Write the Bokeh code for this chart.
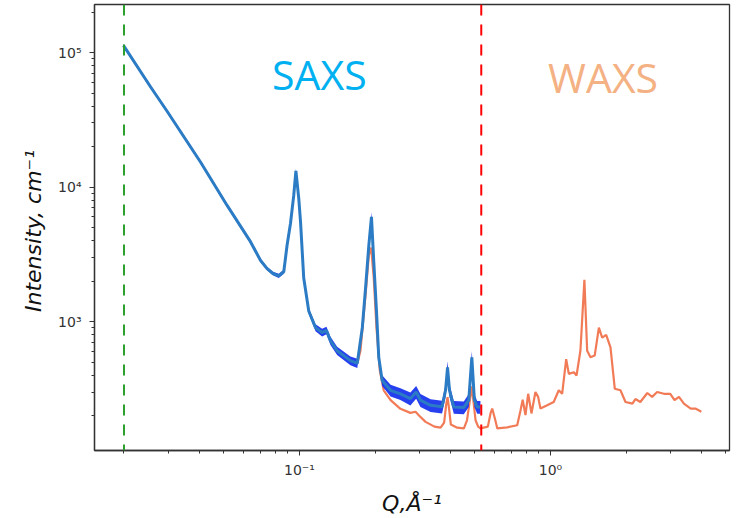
from bokeh.plotting import figure
from bokeh.models import Range1d, FixedTicker, Span, Label
from bokeh.embed import file_html
from bokeh.resources import INLINE

# SAXS curve (Q in 1/A, intensity in 1/cm) and relative error
saxs_q = [0.0199, 0.0255, 0.0297, 0.0404, 0.0515, 0.0638, 0.0700, 0.0743, 0.0784,
          0.0827, 0.0866, 0.0893, 0.0921, 0.0949, 0.0968, 0.0994, 0.101, 0.104,
          0.1089, 0.1159, 0.1231, 0.1281, 0.1329, 0.1413, 0.1596, 0.170, 0.178,
          0.1834, 0.189, 0.1936, 0.1977, 0.2027, 0.207, 0.2135, 0.2307, 0.2525,
          0.2767, 0.2917, 0.3034, 0.333, 0.370, 0.382, 0.389, 0.396, 0.412,
          0.4515, 0.4726, 0.486, 0.4977, 0.5105, 0.526]
saxs_i = [113000, 55700, 36600, 15300, 7310, 3930, 2850, 2480, 2280,
          2190, 2350, 3710, 5360, 8670, 13200, 8180, 5520, 2110,
          1200, 903, 830, 862, 721, 608, 513, 491, 903,
          1780, 3710, 6010, 2800, 1200, 543, 366, 309, 291,
          268, 300, 261, 239, 233, 309, 458, 309, 232,
          230, 261, 543, 261, 232, 232]
saxs_err = [0.025, 0.025, 0.025, 0.025, 0.025, 0.03, 0.03, 0.03, 0.03,
            0.035, 0.035, 0.035, 0.035, 0.035, 0.035, 0.04, 0.04, 0.045,
            0.05, 0.06, 0.065, 0.065, 0.07, 0.07, 0.075, 0.08, 0.08,
            0.08, 0.08, 0.08, 0.08, 0.08, 0.085, 0.09, 0.10, 0.10,
            0.11, 0.11, 0.11, 0.11, 0.11, 0.11, 0.11, 0.11, 0.11,
            0.11, 0.11, 0.11, 0.11, 0.11, 0.11]

# WAXS / merged curve
waxs_q = [0.1596, 0.170, 0.175, 0.1834, 0.189, 0.193, 0.1977, 0.2027, 0.209,
          0.2166, 0.2307, 0.2525, 0.2767, 0.290, 0.300, 0.318, 0.345, 0.365,
          0.377, 0.384, 0.389, 0.394, 0.401, 0.425, 0.452, 0.465, 0.476,
          0.486, 0.494, 0.503, 0.515, 0.526, 0.563, 0.577, 0.586, 0.603,
          0.614, 0.673, 0.737, 0.760, 0.775, 0.795, 0.815, 0.840, 0.871,
          0.893, 0.912, 0.970, 1.03, 1.079, 1.113, 1.155, 1.183, 1.239,
          1.27, 1.316, 1.365, 1.40, 1.443, 1.50, 1.559, 1.607, 1.667,
          1.734, 1.804, 1.9, 1.99, 2.12, 2.18, 2.28, 2.43, 2.54,
          2.66, 2.83, 3.0, 3.12, 3.25, 3.4, 3.62, 3.78, 3.99]
waxs_i = [513, 488, 608, 1590, 3130, 3550, 2110, 903, 433,
          309, 261, 225, 210, 214, 200, 180, 166, 163,
          178, 240, 275, 230, 172, 163, 161, 185, 250,
          330, 250, 185, 166, 161, 166, 208, 226, 185,
          161, 164, 170, 220, 263, 202, 291, 208, 300,
          276, 226, 239, 253, 309, 291, 527, 409, 421,
          398, 608, 2050, 608, 543, 560, 903, 762, 798,
          643, 317, 309, 253, 246, 266, 253, 295, 276,
          300, 291, 291, 261, 276, 246, 226, 226, 214]

x_ticks = [0.1, 1.0]
x_tick_labels = ["10\u207b\u00b9", "10\u2070"]
x_minor = [0.02, 0.03, 0.04, 0.05, 0.06, 0.07, 0.08, 0.09,
           0.2, 0.3, 0.4, 0.5, 0.6, 0.7, 0.8, 0.9, 2, 3, 4, 5]
y_ticks = [1e3, 1e4, 1e5]
y_tick_labels = ["10\u00b3", "10\u2074", "10\u2075"]
y_minor = [200, 300, 400, 500, 600, 700, 800, 900,
           2000, 3000, 4000, 5000, 6000, 7000, 8000, 9000,
           20000, 30000, 40000, 50000, 60000, 70000, 80000, 90000, 200000]

saxs_limit = 0.02
waxs_limit = 0.53

p = figure(width=741, height=518, x_axis_type="log", y_axis_type="log",
           x_range=Range1d(0.01526, 5.166), y_range=Range1d(110.3, 2.275e5),
           output_backend="svg", toolbar_location=None,
           min_border_left=94, min_border_right=12, min_border_top=4, min_border_bottom=64)
p.background_fill_color = "white"
p.border_fill_color = "white"
p.xgrid.visible = False
p.ygrid.visible = False
p.outline_line_color = "#333333"
p.outline_line_width = 1.3
p.outline_line_alpha = 1.0

# curves
p.line(waxs_q, waxs_i, line_color="#f27b57", line_width=2.2)
lower = [v * (1 - e) for v, e in zip(saxs_i, saxs_err)]
upper = [v * (1 + e) for v, e in zip(saxs_i, saxs_err)]
p.varea(x=saxs_q, y1=lower, y2=upper, fill_color="#1a35ee", fill_alpha=0.95)
p.line(saxs_q, saxs_i, line_color="#2b7cc4", line_width=3)

p.add_layout(Span(location=saxs_limit, dimension="height", line_color="#2ca02c",
                  line_width=2, line_dash="11 9"))
p.add_layout(Span(location=waxs_limit, dimension="height", line_color="#ff0000",
                  line_width=2, line_dash="11 9"))

p.add_layout(Label(x=0.120, y=6.9e4, text="SAXS", text_font="Open Sans",
                   text_font_size="41px", text_color="#00b0f0", text_align="center",
                   text_baseline="alphabetic"))
p.add_layout(Label(x=1.62, y=6.6e4, text="WAXS", text_font="Open Sans",
                   text_font_size="41px", text_color="#f4b183", text_align="center",
                   text_baseline="alphabetic"))

# axes
for ax in (p.xaxis[0], p.yaxis[0]):
    ax.axis_line_color = "#333333"
    ax.axis_line_width = 1.3
    ax.major_tick_line_color = "#333333"
    ax.minor_tick_line_color = "#333333"
    ax.major_tick_in = 0
    ax.minor_tick_in = 0
    ax.major_tick_out = 5
    ax.minor_tick_out = 3
    ax.major_label_text_font = "DejaVu Sans"
    ax.major_label_text_font_size = "14px"
    ax.major_label_text_color = "#333333"
    ax.axis_label_text_font = "DejaVu Sans"
    ax.axis_label_text_font_style = "italic"
    ax.axis_label_text_font_size = "22px"
    ax.axis_label_text_color = "#111111"

p.xaxis.ticker = FixedTicker(ticks=x_ticks, minor_ticks=x_minor)
p.xaxis.major_label_overrides = dict(zip(x_ticks, x_tick_labels))
p.yaxis.ticker = FixedTicker(ticks=y_ticks, minor_ticks=y_minor)
p.yaxis.major_label_overrides = dict(zip(y_ticks, y_tick_labels))
p.xaxis.axis_label = "Q,\u00c5\u207b\u00b9"
p.yaxis.axis_label = "Intensity,  cm\u207b\u00b9"
p.xaxis.major_label_standoff = 6
p.yaxis.major_label_standoff = 8
p.xaxis.axis_label_standoff = 10
p.yaxis.axis_label_standoff = 9

open("out.html", "w").write(file_html(p, INLINE))
